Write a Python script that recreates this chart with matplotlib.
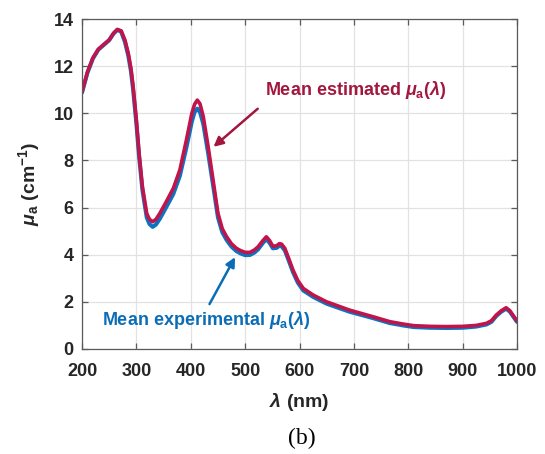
import matplotlib
matplotlib.use("Agg")
import matplotlib.pyplot as plt

plt.rcParams["font.family"] = ["Liberation Sans", "DejaVu Sans"]
plt.rcParams["font.weight"] = "bold"
plt.rcParams["mathtext.fontset"] = "custom"
plt.rcParams["mathtext.rm"] = "Liberation Sans:bold"
plt.rcParams["mathtext.bf"] = "Liberation Sans:bold"
plt.rcParams["mathtext.it"] = "Liberation Sans:italic:bold"

# wavelength (nm) and mean mu_a (cm^-1)
wavelength = [200, 210, 220, 230, 240, 250, 258, 265, 272, 279, 285, 290, 294,
              300, 305, 311, 319, 324, 330, 336, 343, 355, 368, 380, 392, 402,
              407, 412, 417, 423, 432, 441, 450, 458, 466, 475, 484, 492, 500,
              509, 517, 524, 532, 539, 545, 551, 558, 563, 567, 573, 580, 588,
              597, 607, 625, 650, 692, 735, 766, 790, 810, 840, 870, 900, 925,
              944, 953, 962, 971, 980, 987, 993, 1000]
mua_estimated = [10.90, 11.75, 12.35, 12.72, 12.92, 13.12, 13.40, 13.56, 13.50,
                 13.10, 12.55, 11.90, 11.13, 9.70, 8.30, 6.90, 5.75, 5.50, 5.40,
                 5.50, 5.75, 6.25, 6.82, 7.60, 8.87, 10.00, 10.38, 10.56, 10.40,
                 9.86, 8.58, 7.17, 5.76, 5.10, 4.76, 4.46, 4.27, 4.17, 4.10,
                 4.10, 4.20, 4.34, 4.58, 4.76, 4.60, 4.36, 4.38, 4.47, 4.45,
                 4.27, 3.85, 3.35, 2.90, 2.57, 2.29, 2.00, 1.65, 1.37, 1.16,
                 1.06, 0.99, 0.96, 0.95, 0.96, 1.00, 1.09, 1.20, 1.44, 1.62,
                 1.75, 1.62, 1.42, 1.19]
mua_experimental = [10.88, 11.72, 12.32, 12.70, 12.90, 13.10, 13.38, 13.54, 13.46,
                    13.02, 12.45, 11.78, 11.00, 9.55, 8.15, 6.75, 5.58, 5.30, 5.18,
                    5.28, 5.52, 6.02, 6.58, 7.35, 8.55, 9.65, 10.05, 10.20, 10.05,
                    9.55, 8.30, 6.95, 5.58, 4.95, 4.62, 4.34, 4.15, 4.05, 3.98,
                    3.99, 4.09, 4.23, 4.48, 4.66, 4.50, 4.27, 4.29, 4.38, 4.36,
                    4.18, 3.76, 3.26, 2.81, 2.48, 2.21, 1.92, 1.58, 1.31, 1.10,
                    1.00, 0.93, 0.90, 0.89, 0.90, 0.95, 1.04, 1.15, 1.40, 1.58,
                    1.71, 1.58, 1.38, 1.15]

x_ticks = [200, 300, 400, 500, 600, 700, 800, 900, 1000]
y_ticks = [0, 2, 4, 6, 8, 10, 12, 14]

RED = "#C0144B"
RED_TXT = "#A3173F"
BLUE = "#0B74C0"
BLUE_TXT = "#0B6DB6"

fig = plt.figure(figsize=(5.45, 4.54), dpi=100)
ax = fig.add_axes([0.1505, 0.2313, 0.7981, 0.7268])

ax.plot(wavelength, mua_experimental, color=BLUE, lw=2.9, solid_capstyle="round")
ax.plot(wavelength, mua_estimated, color=RED, lw=2.6, solid_capstyle="round")

ax.set_xlim(200, 1000)
ax.set_ylim(0, 14)
ax.set_xticks(x_ticks)
ax.set_yticks(y_ticks)
ax.grid(True, color="#e2e2e2", lw=0.9)
ax.set_axisbelow(True)
ax.tick_params(direction="in", top=True, right=True, length=4, width=0.9,
               colors="#5a5a5a", labelcolor="#262626", labelsize=13)
ax.tick_params(axis="x", pad=10)
ax.tick_params(axis="y", pad=6)
for lab in ax.get_xticklabels() + ax.get_yticklabels():
    lab.set_fontweight("bold")
for sp in ax.spines.values():
    sp.set_color("#5a5a5a")
    sp.set_linewidth(0.9)

ax.set_xlabel(r"$\lambda$ (nm)", fontsize=14, fontweight="bold", color="#262626", labelpad=8)
ax.set_ylabel(r"$\mu_{\mathrm{a}}$ (cm$^{\mathrm{-1}}$)", fontsize=14, fontweight="bold",
              color="#262626", labelpad=8)

ax.text(536, 11.0, r"Mean estimated $\mu_{\mathrm{a}}(\lambda)$", color=RED_TXT,
        fontsize=13, fontweight="bold", ha="left", va="center")
ax.annotate("", xy=(438, 8.5), xytext=(527, 10.27),
            arrowprops=dict(arrowstyle="-|>", color=RED_TXT, lw=1.8, mutation_scale=14))

ax.text(237, 1.25, r"Mean experimental $\mu_{\mathrm{a}}(\lambda)$", color=BLUE_TXT,
        fontsize=13, fontweight="bold", ha="left", va="center")
ax.annotate("", xy=(484, 4.0), xytext=(432, 1.8),
            arrowprops=dict(arrowstyle="-|>", color=BLUE_TXT, lw=1.8, mutation_scale=14))

fig.text(0.553, 0.035, "(b)", fontsize=17, fontweight="normal",
         family="Liberation Serif", ha="center", va="center")

fig.savefig("out.png", dpi=100)
